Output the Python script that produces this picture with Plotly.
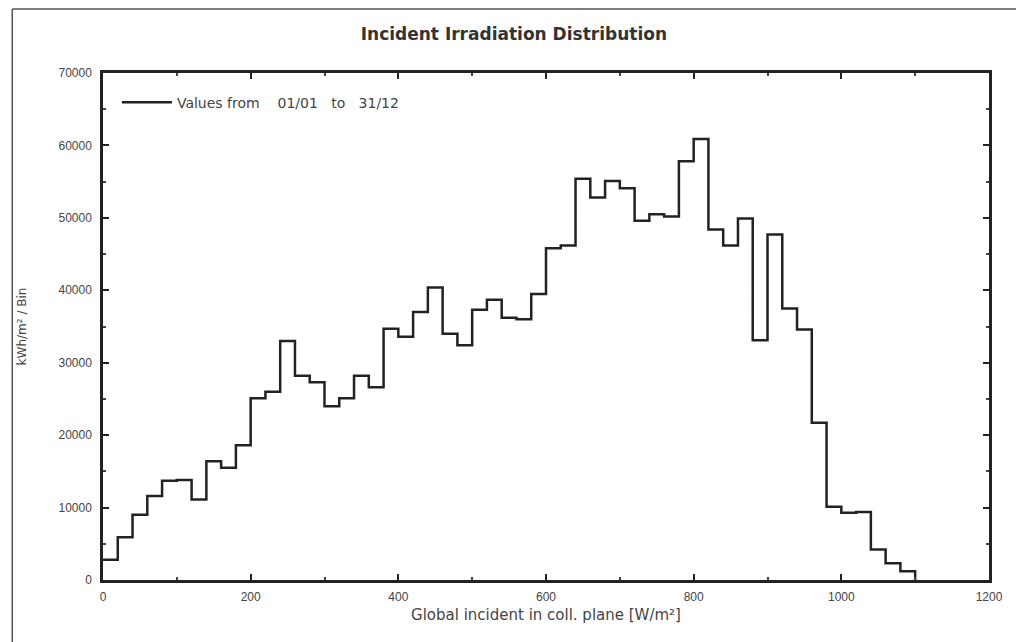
import plotly.graph_objects as go

# bin left edges (W/m²), bin width 20
bin_start = list(range(0, 1100, 20))
bin_end_last = 1100
values = [2800, 5900, 9000, 11600, 13700, 13800, 11100, 16400, 15500, 18600,
          25100, 26000, 33000, 28200, 27300, 24000, 25100, 28200, 26600, 34700,
          33600, 37000, 40400, 34000, 32400, 37300, 38700, 36200, 36000, 39500,
          45800, 46200, 55400, 52800, 55100, 54100, 49600, 50500, 50200, 57800,
          60900, 48400, 46200, 49900, 33100, 47700, 37500, 34600, 21700, 10100,
          9300, 9400, 4200, 2300, 1200]

x_ticks = [0, 200, 400, 600, 800, 1000, 1200]
y_ticks = [0, 10000, 20000, 30000, 40000, 50000, 60000, 70000]

xs = bin_start + [bin_end_last]
ys = values + [0]

FONT = "Liberation Sans, Arial, sans-serif"
WIDE = "DejaVu Sans, Verdana, sans-serif"
fig = go.Figure()
fig.add_trace(go.Scatter(
    x=xs, y=ys, mode="lines", line=dict(shape="hv", color="#222222", width=2.5),
    name="Values from\u00a0\u00a0\u00a0 01/01\u00a0\u00a0 to\u00a0\u00a0 31/12",
    showlegend=True,
))

axis_common = dict(
    showline=True, linewidth=2.5, linecolor="#222222", mirror="ticks",
    ticks="inside", ticklen=6, tickwidth=1.5, tickcolor="#222222",
    showgrid=False, zeroline=False,
    tickfont=dict(family=FONT, size=12, color="#444444"),
)

fig.update_layout(
    width=1024, height=642,
    margin=dict(l=92, r=43, t=65, b=70),
    paper_bgcolor="white", plot_bgcolor="white",
    title=dict(text="<b>Incident Irradiation Distribution</b>", x=0.494, xref="container",
               xanchor="center", y=1 - 26 / 642, yanchor="middle",
               font=dict(family=WIDE, size=17, color="#333333")),
    xaxis=dict(range=[0, 1200], tickvals=x_ticks, ticklabelstandoff=4,
               minor=dict(dtick=100, ticks="inside", ticklen=3, tickcolor="#444444"),
               title=dict(text="Global incident in coll. plane [W/m²]",
                          font=dict(family=WIDE, size=15, color="#444444"), standoff=7),
               **axis_common),
    yaxis=dict(range=[0, 70000], tickvals=y_ticks, tickformat="d", ticklabelstandoff=6,
               minor=dict(dtick=5000, ticks="inside", ticklen=3, tickcolor="#444444"),
               title=dict(text="kWh/m² / Bin",
                          font=dict(family=WIDE, size=12, color="#444444"), standoff=30),
               **axis_common),
    legend=dict(x=0.0157, y=0.973, xanchor="left", yanchor="top", itemwidth=50,
                bgcolor="rgba(0,0,0,0)", font=dict(family=WIDE, size=14, color="#444444")),
    shapes=[
        dict(type="line", xref="paper", yref="paper", x0=-0.1024, x1=-0.1024, y0=-0.2, y1=1.1262,
             line=dict(color="#555555", width=1.5)),
        dict(type="line", xref="paper", yref="paper", x0=-0.1024, x1=1.1, y0=1.1262, y1=1.1262,
             line=dict(color="#555555", width=1.5)),
    ],
)

fig.write_html("out.html")
